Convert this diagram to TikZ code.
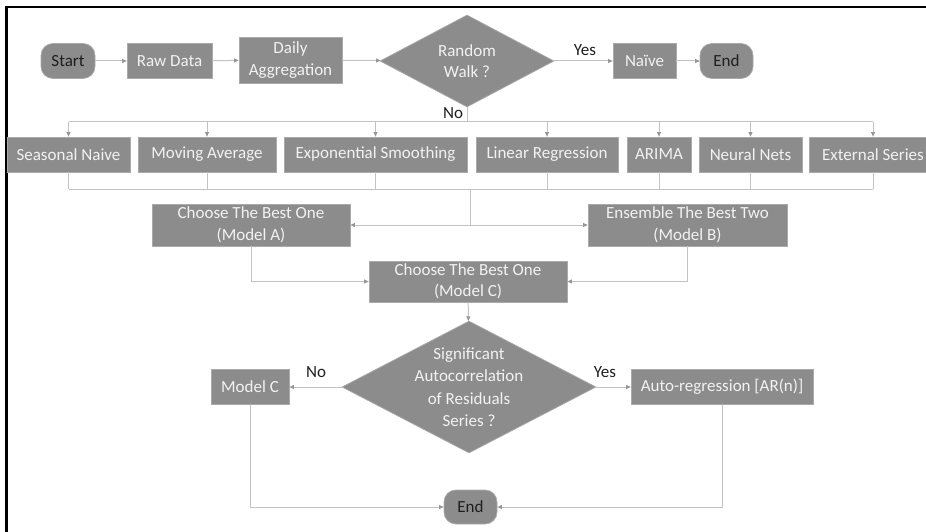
\documentclass[tikz,border=0pt]{standalone}
\usepackage{fontspec}
\setmainfont{Carlito}
\usepackage{tikz}
\usetikzlibrary{shapes.geometric,arrows.meta}
\definecolor{boxgray}{RGB}{140,140,140}
\definecolor{boxline}{RGB}{170,170,170}
\definecolor{linkgray}{RGB}{195,195,195}
\definecolor{tipgray}{RGB}{150,150,150}
\definecolor{boxtext}{RGB}{242,242,242}
\definecolor{darktext}{RGB}{30,30,30}
\tikzset{every picture/.style={line width=0.75pt}}
\tikzset{
  procbox/.style={draw=boxline, fill=boxgray, text=boxtext, inner sep=0pt, align=center,
    font=\fontsize{17}{21.5}\selectfont},
  termbox/.style={procbox, text=darktext, rounded corners=12pt},
  decbox/.style={procbox, shape=diamond, inner sep=-15pt, shape aspect=1.9},
  link/.style={draw=linkgray, line width=1pt},
  arrlink/.style={link, -{Triangle[length=4.5pt,width=4pt,color=tipgray]}},
  answer/.style={text=darktext, font=\fontsize{17}{21.5}\selectfont}
}

\begin{document}
\begin{tikzpicture}[x=1pt,y=1pt,yscale=-1,xscale=1]
\useasboundingbox (0,0) rectangle (926,532);
%Frame
\draw [line width=2.5pt] (6.3,532) -- (6.3,7) -- (926,7) ;
%Top row
\node [termbox, minimum width=54, minimum height=35] (start) at (68,61) {Start};
\node [procbox, minimum width=85, minimum height=35] (raw) at (169.5,61) {Raw Data};
\node [procbox, minimum width=103, minimum height=46] (daily) at (290.5,60) {Daily\\Aggregation};
\node [decbox, minimum width=174, minimum height=92] (walk) at (467,61) {Random\\Walk ?};
\node [procbox, minimum width=63, minimum height=35] (naive) at (644.5,61) {Naïve};
\node [termbox, minimum width=53, minimum height=35] (endtop) at (726.5,61) {End};
\draw [arrlink] (start) -- (raw) ;
\draw [arrlink] (raw) -- (daily) ;
\draw [arrlink] (daily) -- (walk) ;
\draw [arrlink] (walk) -- (naive) ;
\draw [arrlink] (naive) -- (endtop) ;
\node [answer] (yestop) at (585,50) {Yes};
\node [answer] (notop) at (453,113) {No};
%Candidate models
\node [procbox, minimum width=123, minimum height=35] (snaive) at (68.5,154.5) {Seasonal Naive};
\node [procbox, minimum width=138, minimum height=35] (movavg) at (207,154.5) {Moving Average};
\node [procbox, minimum width=183, minimum height=35] (expsm) at (375.5,154.5) {Exponential Smoothing};
\node [procbox, minimum width=142, minimum height=35] (linreg) at (547,154.5) {Linear Regression};
\node [procbox, minimum width=64, minimum height=35] (arima) at (659,154.5) {ARIMA};
\node [procbox, minimum width=103, minimum height=35] (neural) at (750.5,154.5) {Neural Nets};
\node [procbox, minimum width=128, minimum height=35] (extser) at (873,154.5) {External Series};
\coordinate (bustop) at (467,122);
\coordinate (busbot) at (470,189);
\coordinate (split) at (470,225);
\draw [link] (walk.south) -- (bustop) ;
\draw [link] (snaive.north |- bustop) -- (extser.north |- bustop) ;
\draw [link] (snaive.south |- busbot) -- (extser.south |- busbot) ;
\foreach \m in {snaive,movavg,expsm,linreg,arima,neural,extser}{
  \draw [arrlink] (\m.north |- bustop) -- (\m.north) ;
  \draw [link] (\m.south) -- (\m.south |- busbot) ;
}
\draw [link] (busbot) -- (split) ;
%Model selection
\node [procbox, minimum width=198, minimum height=42] (modela) at (251,225) {Choose The Best One\\(Model A)};
\node [procbox, minimum width=199, minimum height=42] (modelb) at (687.5,225) {Ensemble The Best Two\\(Model B)};
\node [procbox, minimum width=198, minimum height=41] (modelc) at (468,281.5) {Choose The Best One\\(Model C)};
\draw [arrlink] (split) -- (modela) ;
\draw [arrlink] (split) -- (modelb) ;
\draw [arrlink] (modela.south) |- (modelc.west) ;
\draw [arrlink] (modelb.south) |- (modelc.east) ;
%Residual check
\node [decbox, minimum width=254, minimum height=132, font=\fontsize{17}{22.5}\selectfont] (resid) at (469,387) {Significant\\Autocorrelation\\of Residuals\\Series ?};
\node [procbox, minimum width=78, minimum height=35] (keepc) at (250,387) {Model C};
\node [procbox, minimum width=182, minimum height=35] (autoreg) at (722,387) {Auto-regression [AR(n)]};
\node [termbox, minimum width=53, minimum height=34] (endbot) at (470.5,507) {End};
\draw [arrlink] (modelc) -- (resid) ;
\draw [arrlink] (resid) -- (keepc) ;
\draw [arrlink] (resid) -- (autoreg) ;
\node [answer] (nobot) at (316,372) {No};
\node [answer] (yesbot) at (605,372) {Yes};
\draw [arrlink] (keepc.south) |- (endbot.west) ;
\draw [arrlink] (autoreg.south) |- (endbot.east) ;
\end{tikzpicture}
\end{document}
